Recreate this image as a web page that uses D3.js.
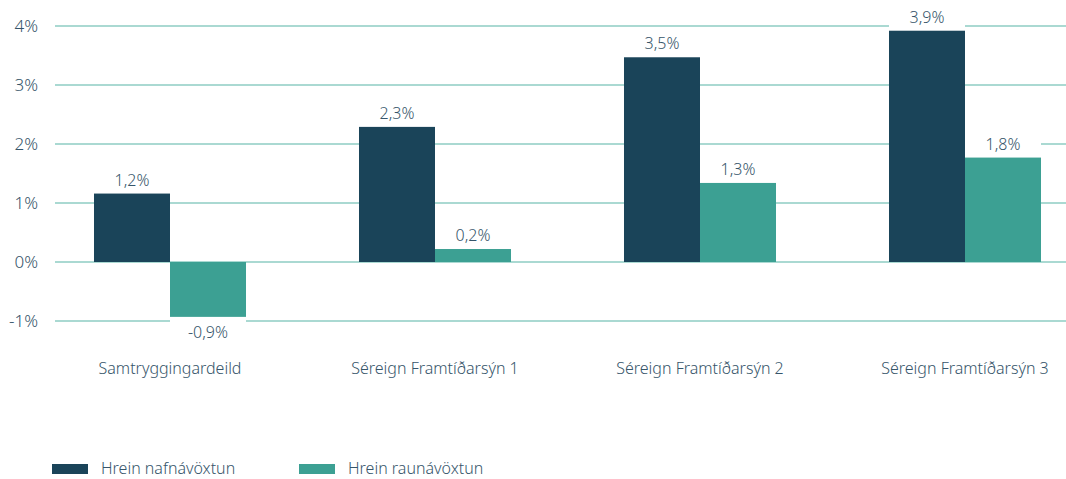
<!DOCTYPE html>
<html>
<head>
<meta charset="utf-8">
<script src="https://cdn.jsdelivr.net/npm/d3@7"></script>
<style>
  body { margin: 0; background: #fff; }
  text { font-family: "Noto Sans", sans-serif; font-weight: 300; fill: #36556a; }
</style>
</head>
<body>
<script>
// data
const categories = ["Samtryggingardeild", "Séreign Framtíðarsýn 1", "Séreign Framtíðarsýn 2", "Séreign Framtíðarsýn 3"];
const seriesNames = ["Hrein nafnávöxtun", "Hrein raunávöxtun"];
const nominal = [1.16, 2.29, 3.47, 3.92];
const real = [-0.93, 0.22, 1.34, 1.77];
const yTicks = [-1, 0, 1, 2, 3, 4];
const colours = ["#1a4459", "#3ca093"];

const w = 1066;
const h = 479;
const fontSize = "16px";

let svg = d3.select("body")
  .append("svg")
  .attr("width", w)
  .attr("height", h);

// scales
let yScale = d3.scaleLinear()
  .domain([-1, 4])
  .range([321, 26]);

let xScale = d3.scaleBand()
  .domain(categories)
  .range([37.5, 1097.5])
  .paddingInner(0.4264)
  .paddingOuter(0.2132);

let x1 = d3.scaleBand()
  .domain(seriesNames)
  .range([0, xScale.bandwidth()]);

// gridlines
svg.append("g")
  .selectAll("line")
  .data(yTicks)
  .enter()
  .append("line")
  .attr("x1", 55)
  .attr("x2", w)
  .attr("y1", d => yScale(d))
  .attr("y2", d => yScale(d))
  .attr("stroke", "#8ecdc3")
  .attr("stroke-width", 1.5);

// y tick labels
let yAxis = d3.axisLeft(yScale)
  .tickValues(yTicks)
  .tickSize(0)
  .tickPadding(0)
  .tickFormat(d => d + "%");
svg.append("g")
  .attr("transform", "translate(38,0)")
  .call(yAxis)
  .call(g => g.select(".domain").remove())
  .selectAll("text")
  .style("font-size", "17px")
  .style("font-family", "'Noto Sans', sans-serif")
  .attr("fill", "#36556a");

// flatten data
let data = [];
categories.forEach(function(c, i) {
  data.push({cat: c, series: seriesNames[0], value: nominal[i], colour: colours[0]});
  data.push({cat: c, series: seriesNames[1], value: real[i], colour: colours[1]});
});

const fmt = d => d3.format(".1f")(d).replace(".", ",").replace("−", "-") + "%";

// white boxes behind the value labels
svg.append("g")
  .selectAll("rect")
  .data(data)
  .enter()
  .append("rect")
  .attr("x", d => xScale(d.cat) + x1(d.series))
  .attr("width", x1.bandwidth())
  .attr("y", d => d.value >= 0 ? yScale(d.value) - 24 : yScale(d.value))
  .attr("height", 24)
  .attr("fill", "#fff");

// bars
svg.append("g")
  .selectAll("rect")
  .data(data)
  .enter()
  .append("rect")
  .attr("x", d => xScale(d.cat) + x1(d.series))
  .attr("width", x1.bandwidth())
  .attr("y", d => yScale(Math.max(0, d.value)))
  .attr("height", d => Math.abs(yScale(d.value) - yScale(0)))
  .attr("fill", d => d.colour);

// value labels
svg.append("g")
  .selectAll("text")
  .data(data)
  .enter()
  .append("text")
  .attr("x", d => xScale(d.cat) + x1(d.series) + x1.bandwidth() / 2)
  .attr("y", d => d.value >= 0 ? yScale(d.value) - 8 : yScale(d.value) + 21)
  .attr("text-anchor", "middle")
  .style("font-size", fontSize)
  .text(d => fmt(d.value));

// category labels
svg.append("g")
  .selectAll("text")
  .data(categories)
  .enter()
  .append("text")
  .attr("x", d => xScale(d) + xScale.bandwidth() / 2)
  .attr("y", 374)
  .attr("text-anchor", "middle")
  .style("font-size", fontSize)
  .text(d => d);

// legend
let legendX = d3.scaleOrdinal()
  .domain(seriesNames)
  .range([52, 299]);

let legend = svg.append("g");
legend.selectAll("rect")
  .data(seriesNames)
  .enter()
  .append("rect")
  .attr("x", d => legendX(d))
  .attr("y", 464)
  .attr("width", 36)
  .attr("height", 10)
  .attr("fill", (d, i) => colours[i]);
legend.selectAll("text")
  .data(seriesNames)
  .enter()
  .append("text")
  .attr("x", d => legendX(d) + 49)
  .attr("y", 474)
  .style("font-size", fontSize)
  .text(d => d);
</script>
</body>
</html>
